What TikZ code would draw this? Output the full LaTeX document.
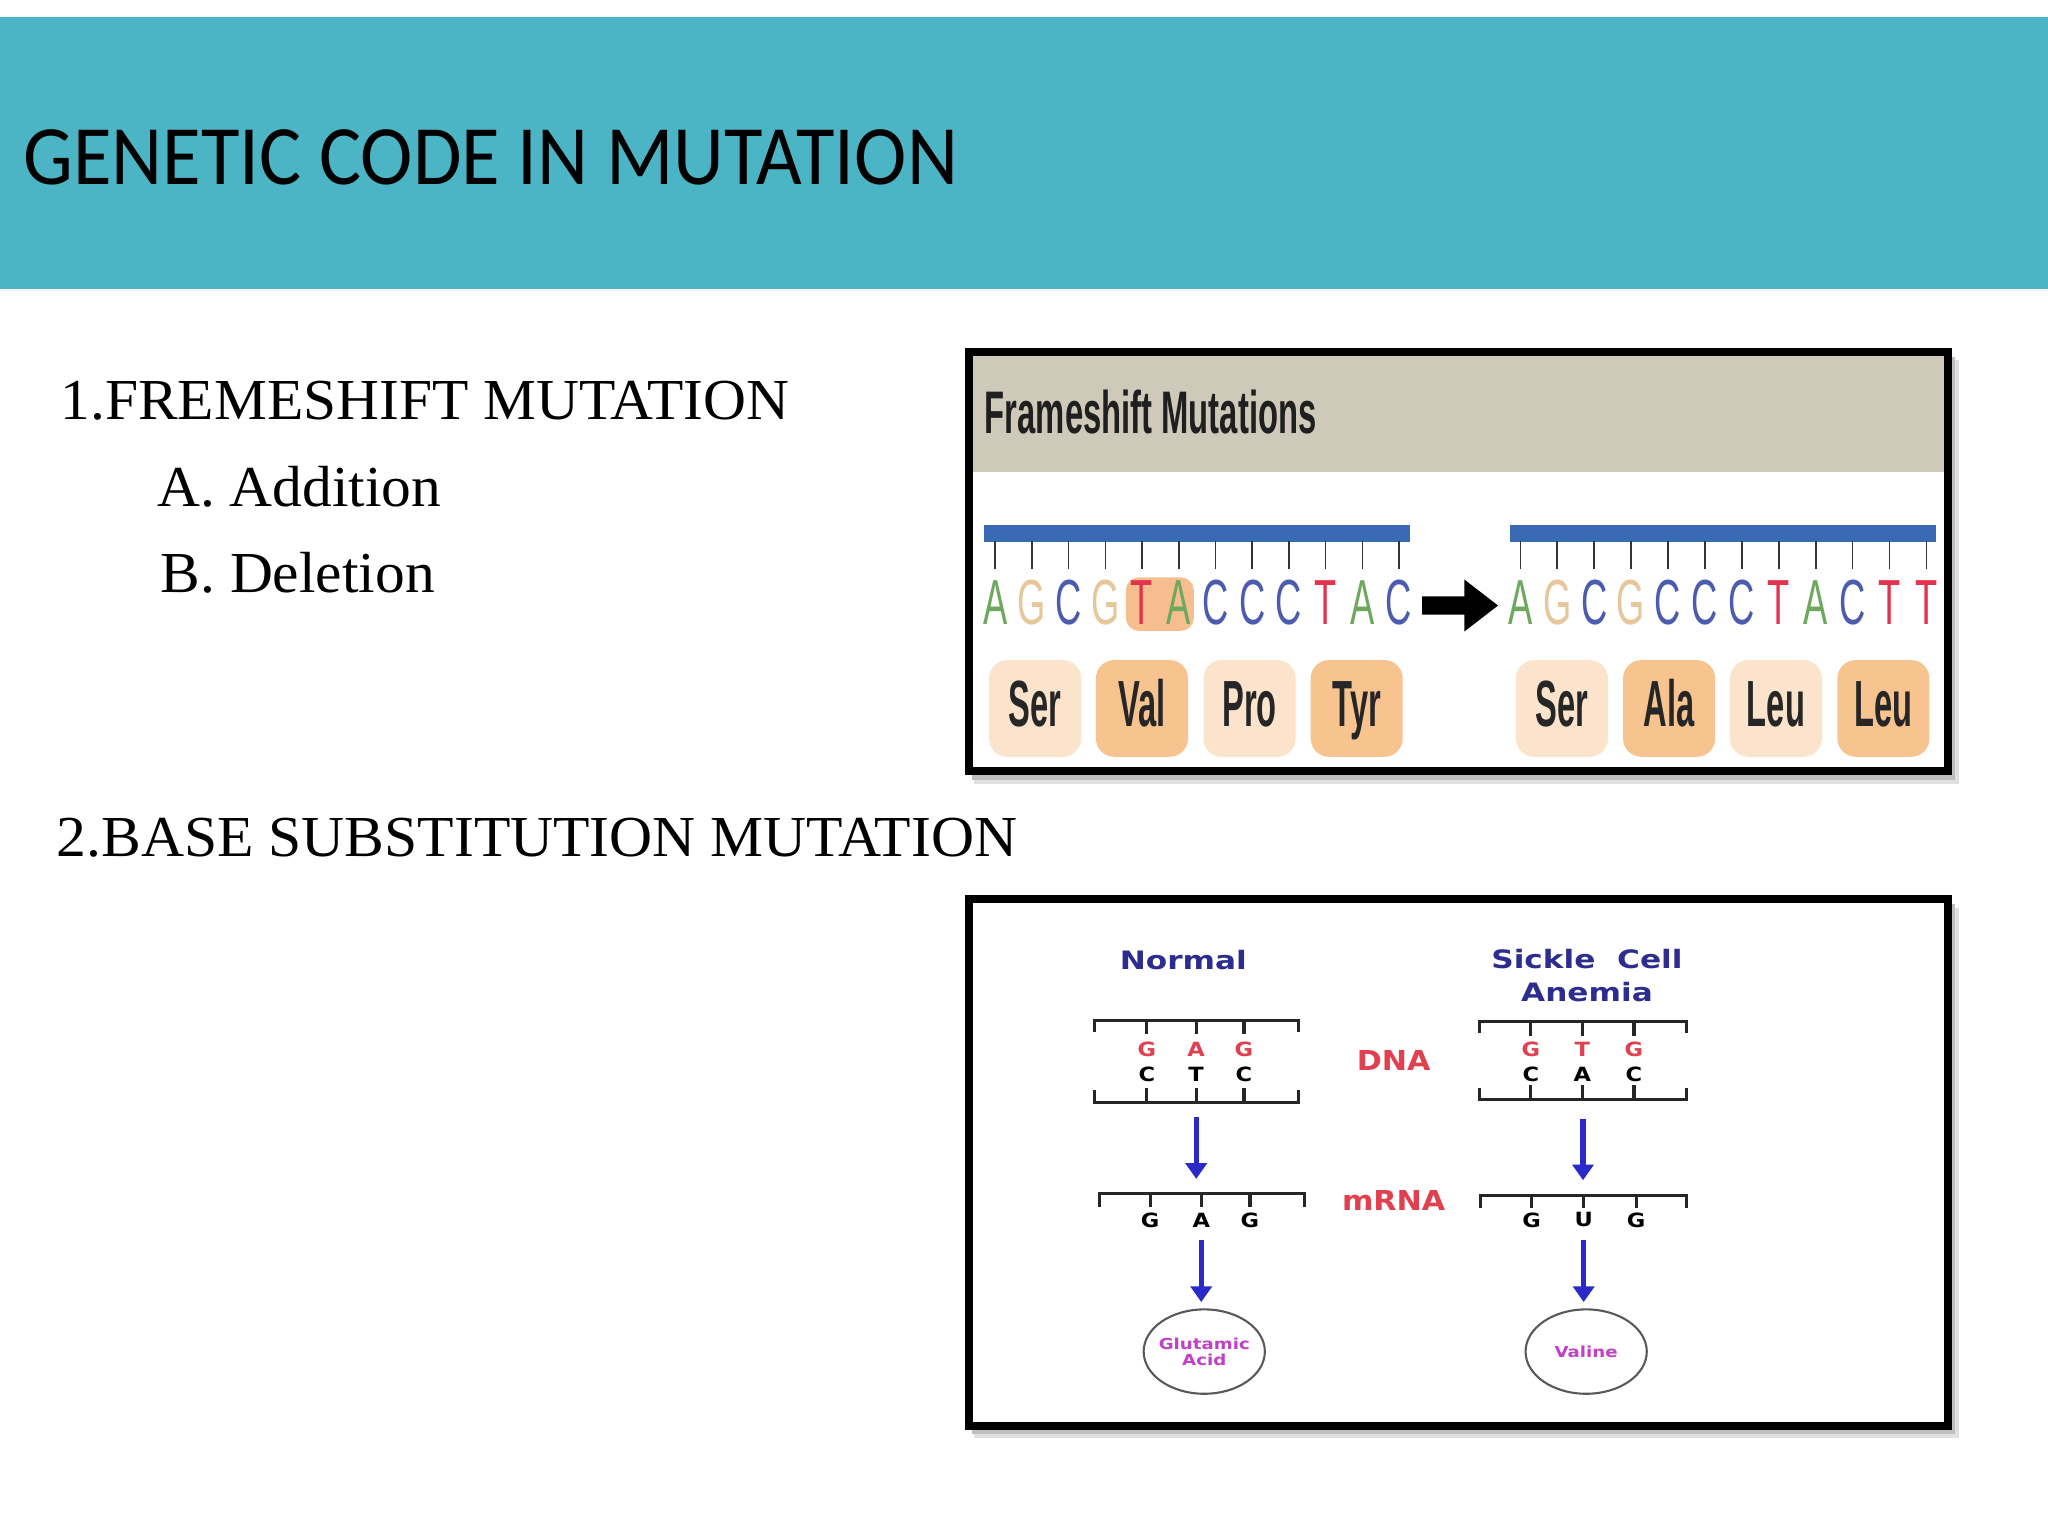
\documentclass[tikz,border=0pt]{standalone}
\usepackage{fontspec}
\usepackage{graphicx}
\setmainfont{Liberation Serif}
\newfontfamily\titlefont{Carlito}
\newfontfamily\arialfont{Liberation Sans}
\newfontfamily\roundfont{DejaVu Sans}
\usetikzlibrary{arrows.meta,shapes.geometric}
\definecolor{band}{HTML}{4BB4C5}
\definecolor{tanband}{HTML}{CFC9BA}
\definecolor{barblue}{HTML}{3A6AB4}
\definecolor{baseA}{HTML}{6EA85E}
\definecolor{baseG}{HTML}{E6C79C}
\definecolor{baseC}{HTML}{4B5CB0}
\definecolor{baseT}{HTML}{E2324E}
\definecolor{amlight}{HTML}{FCE3CB}
\definecolor{amdark}{HTML}{F7C490}
\definecolor{hilite}{HTML}{F6BE8E}
\definecolor{navy}{HTML}{2D2D8F}
\definecolor{dnared}{HTML}{E0404F}
\definecolor{arrowblue}{HTML}{2A2AC8}
\definecolor{aatext}{HTML}{C040C8}
\begin{document}
\begin{tikzpicture}[x=0.5pt,y=-0.5pt,
  bodytext/.style={anchor=base west, inner sep=0, font=\fontsize{22.2}{26}\selectfont},
  tickline/.style={line width=0.6pt, black!80},
  baseletter/.style={anchor=base, inner sep=0, font=\arialfont\fontsize{24.4}{24.4}\selectfont},
  aminobox/.style={rounded corners=7pt, minimum width=35.25pt, minimum height=37pt, inner sep=0,
     text height=18pt, text depth=4pt, font=\arialfont\bfseries\fontsize{25}{25}\selectfont, text=black!85},
  frameline/.style={line width=3pt, draw=black},
  rail/.style={line width=1.2pt, black!85},
  bluearrow/.style={line width=2pt, arrowblue, -{Triangle[length=6pt,width=8pt]}},
  dnalabel/.style={inner sep=0, font=\roundfont\bfseries\fontsize{10.5}{10.5}\selectfont, text=dnared},
  nt/.style={inner sep=0, font=\roundfont\bfseries\fontsize{7.5}{7.5}\selectfont},
  headlabel/.style={inner sep=0, font=\roundfont\bfseries\fontsize{9.7}{12}\selectfont, text=navy},
  aanode/.style={ellipse, draw=black!65, line width=0.8pt, minimum width=46.4pt, minimum height=32.3pt,
     inner sep=-4pt, align=center, text=aatext, font=\roundfont\bfseries\fontsize{5.8}{6.2}\selectfont},
  ghost/.style={draw=none, inner sep=0}
]
\useasboundingbox (0,0) rectangle (1568,1176);
\fill[white] (0,0) rectangle (1568,1176);
% header band
\fill[band] (0,13) rectangle (1568,221);
\node[anchor=base west, inner sep=0] (title) at (17.6,141)
  {\resizebox{357.7pt}{21pt}{\titlefont GENETIC CODE IN MUTATION}};

% left text
\node[bodytext] (h1) at (46,321) {\scalebox{1.025}[1]{1.FREMESHIFT MUTATION}};
\node[bodytext] (ha) at (120,387.5) {\scalebox{1.025}[1]{A. Addition}};
\node[bodytext] (hb) at (122.6,454) {\scalebox{1.025}[1]{B. Deletion}};
\node[bodytext] (h2) at (43,655.5) {\scalebox{1.028}[1]{2.BASE SUBSTITUTION MUTATION}};

% ---------- frameshift panel ----------
\fill[black!12] (746,276) rectangle (1500,600);
\fill[black!25] (744,273) rectangle (1497,597);
\fill[white] (742,270) rectangle (1491.5,590.5);
\fill[tanband] (742,270) rectangle (1491.5,361);
\draw[frameline] (742,269.6) rectangle (1491.6,590.5);
\node[anchor=base west, inner sep=0, text=black!88] (fstitle) at (753.6,331.8)
  {\scalebox{0.546}[1]{\arialfont\bfseries\fontsize{23}{23}\selectfont Frameshift Mutations}};

% blue backbones
\fill[barblue] (753.6,402) rectangle (1079.4,414.7);
\fill[barblue] (1156,402) rectangle (1482,414.7);
% highlight behind TA
\fill[hilite, rounded corners=5pt] (862,442) rectangle (914,483);
% left sequence
\foreach \l/\c [count=\i] in {A/baseA,G/baseG,C/baseC,G/baseG,T/baseT,A/baseA,C/baseC,C/baseC,C/baseC,T/baseT,A/baseA,C/baseC}{
  \draw[tickline] ({762+28.1*(\i-1)},414) -- ({762+28.1*(\i-1)},436);
  \node[baseletter, text=\c] (L\i) at ({762+28.1*(\i-1)},478) {\scalebox{0.57}[1]{\l}};
}
% right sequence
\foreach \l/\c [count=\i] in {A/baseA,G/baseG,C/baseC,G/baseG,C/baseC,C/baseC,C/baseC,T/baseT,A/baseA,C/baseC,T/baseT,T/baseT}{
  \draw[tickline] ({1164+28.27*(\i-1)},414) -- ({1164+28.27*(\i-1)},436);
  \node[baseletter, text=\c] (R\i) at ({1164+28.27*(\i-1)},478) {\scalebox{0.57}[1]{\l}};
}
% big arrow
\draw[line width=7pt, -{Triangle[length=13pt,width=19pt]}] ([xshift=3.6pt,yshift=-1.2pt]L12.east) -- ([xshift=-3.6pt,yshift=-1.2pt]R1.west);

% amino acid boxes
\node[aminobox, fill=amlight] (aS1) at (792.5,542.4) {\scalebox{0.5}[1]{Ser}};
\node[aminobox, fill=amdark]  (aV)  at (874.3,542.4) {\scalebox{0.5}[1]{Val}};
\node[aminobox, fill=amlight] (aP)  at (956.7,542.4) {\scalebox{0.5}[1]{Pro}};
\node[aminobox, fill=amdark]  (aT)  at (1038.7,542.4) {\scalebox{0.5}[1]{Tyr}};
\node[aminobox, fill=amlight] (aS2) at (1195.9,542.4) {\scalebox{0.5}[1]{Ser}};
\node[aminobox, fill=amdark]  (aA)  at (1277.9,542.4) {\scalebox{0.5}[1]{Ala}};
\node[aminobox, fill=amlight] (aL1) at (1359.7,542.4) {\scalebox{0.5}[1]{Leu}};
\node[aminobox, fill=amdark]  (aL2) at (1442,542.4) {\scalebox{0.5}[1]{Leu}};

% ---------- sickle cell panel ----------
\fill[black!12] (746,695) rectangle (1500,1101);
\fill[black!25] (744,692) rectangle (1497,1098);
\fill[white] (742,688.5) rectangle (1491.5,1092);
\draw[frameline] (742,688.5) rectangle (1491.5,1092);

\node[headlabel] (normal) at (906,735) {\scalebox{1.23}[1]{Normal}};
\node[headlabel, align=center] (sickle) at (1215,747) {\scalebox{1.23}[1]{Sickle\ \ Cell}\\[0.9pt]\scalebox{1.23}[1]{Anemia}};

% left DNA ladder
\draw[rail] (837.7,790) -- (837.7,781) -- (994,781) -- (994,790);
\draw[rail] (837.7,834.5) -- (837.7,844) -- (994,844) -- (994,834.5);
\foreach \x in {878,915.8,952.4}{
  \draw[rail] (\x,781) -- (\x,792);
  \draw[rail] (\x,844) -- (\x,833);
}
\node[nt, text=dnared] (nG1) at (878,803.7) {\scalebox{1.15}[1]{G}};
\node[nt, text=dnared] (nA1) at (915.8,803.7) {\scalebox{1.15}[1]{A}};
\node[nt, text=dnared] (nG2) at (952.4,803.7) {\scalebox{1.15}[1]{G}};
\node[nt] (nC1) at (878,822.4) {\scalebox{1.15}[1]{C}};
\node[nt] (nT1) at (915.8,822.4) {\scalebox{1.15}[1]{T}};
\node[nt] (nC2) at (952.4,822.4) {\scalebox{1.15}[1]{C}};
\node[ghost, minimum width=78.15pt, minimum height=31.5pt] (dnaL) at (915.85,812.5) {};

% right DNA ladder
\draw[rail] (1133,791) -- (1133,782.3) -- (1291,782.3) -- (1291,791);
\draw[rail] (1133,833) -- (1133,842) -- (1291,842) -- (1291,833);
\foreach \x in {1172,1211.5,1251}{
  \draw[rail] (\x,782.3) -- (\x,793);
  \draw[rail] (\x,842) -- (\x,831);
}
\node[nt, text=dnared] (sG1) at (1172,803.7) {\scalebox{1.15}[1]{G}};
\node[nt, text=dnared] (sT1) at (1211.5,803.7) {\scalebox{1.15}[1]{T}};
\node[nt, text=dnared] (sG2) at (1251,803.7) {\scalebox{1.15}[1]{G}};
\node[nt] (sC1) at (1172,822.8) {\scalebox{1.15}[1]{C}};
\node[nt] (sA1) at (1211.5,822.8) {\scalebox{1.15}[1]{A}};
\node[nt] (sC2) at (1251,822.8) {\scalebox{1.15}[1]{C}};
\node[ghost, minimum width=79pt, minimum height=29.85pt] (dnaR) at (1212,812.15) {};

\node[dnalabel] (dnalab) at (1067,811.8) {\scalebox{1.1}[1]{DNA}};
\node[dnalabel] (mrnalab) at (1067,919) {\scalebox{1.1}[1]{mRNA}};

% left mRNA
\draw[rail] (842,924) -- (842,914) -- (998.5,914) -- (998.5,924);
\foreach \x in {880.6,919.7,957}{ \draw[rail] (\x,914) -- (\x,924); }
\node[nt] (mG1) at (880.6,934) {\scalebox{1.15}[1]{G}};
\node[nt] (mA)  at (919.7,934) {\scalebox{1.15}[1]{A}};
\node[nt] (mG2) at (957,934) {\scalebox{1.15}[1]{G}};
\node[ghost, minimum width=78.25pt, minimum height=5pt] (mrnaL) at (920.25,919) {};

% right mRNA
\draw[rail] (1133.6,925) -- (1133.6,915) -- (1291,915) -- (1291,925);
\foreach \x in {1172.7,1212.5,1252.6}{ \draw[rail] (\x,915) -- (\x,925); }
\node[nt] (uG1) at (1172.7,934) {\scalebox{1.15}[1]{G}};
\node[nt] (mU)  at (1212.5,934) {\scalebox{1.15}[1]{U}};
\node[nt] (uG2) at (1252.6,934) {\scalebox{1.15}[1]{G}};
\node[ghost, minimum width=78.7pt, minimum height=5pt] (mrnaR) at (1212.3,920) {};

% amino acid ellipses
\node[aanode] (glu) at (922,1034.8) {\scalebox{1.2}[1]{Glutamic}\\\scalebox{1.2}[1]{Acid}};
\node[aanode] (val) at (1214.4,1034.8) {\scalebox{1.2}[1]{Valine}};

% blue arrows
\draw[bluearrow, shorten <=5.3pt, shorten >=5.5pt] (dnaL.south) -- (dnaL.south |- mrnaL.north);
\draw[bluearrow, shorten <=7pt, shorten >=5.5pt] (dnaR.south) -- (dnaR.south |- mrnaR.north);
\draw[bluearrow, shorten <=4.7pt, shorten >=2.4pt] (mA.south) -- (mA.south |- glu.north);
\draw[bluearrow, shorten <=4.7pt, shorten >=2.4pt] (mU.south) -- (mU.south |- val.north);
\end{tikzpicture}
\end{document}
